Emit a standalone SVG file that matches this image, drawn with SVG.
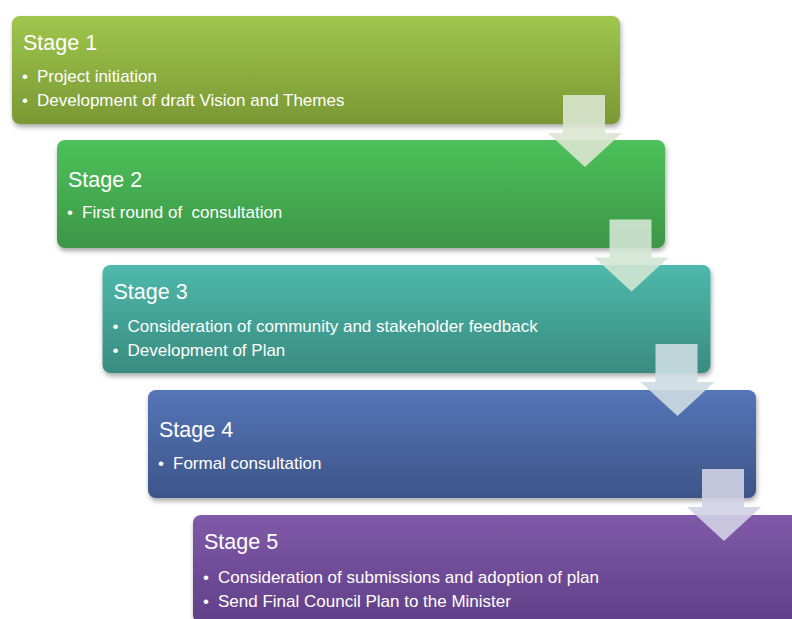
<svg xmlns="http://www.w3.org/2000/svg" width="792" height="619" viewBox="0 0 792 619">
<defs>
<filter id="sh" x="-5%" y="-10%" width="110%" height="130%">
<feDropShadow dx="1" dy="3" stdDeviation="2.5" flood-color="#000" flood-opacity="0.35"/>
</filter>
<linearGradient id="g1" x1="0" y1="0" x2="0" y2="1"><stop offset="0" stop-color="#9fc64c"/><stop offset="1" stop-color="#7a9834"/></linearGradient>
<linearGradient id="g2" x1="0" y1="0" x2="0" y2="1"><stop offset="0" stop-color="#4dc15b"/><stop offset="1" stop-color="#3c9646"/></linearGradient>
<linearGradient id="g3" x1="0" y1="0" x2="0" y2="1"><stop offset="0" stop-color="#4eb9ac"/><stop offset="1" stop-color="#398b7f"/></linearGradient>
<linearGradient id="g4" x1="0" y1="0" x2="0" y2="1"><stop offset="0" stop-color="#5575b7"/><stop offset="1" stop-color="#3d5588"/></linearGradient>
<linearGradient id="g5" x1="0" y1="0" x2="0" y2="1"><stop offset="0" stop-color="#805aa9"/><stop offset="1" stop-color="#603f87"/></linearGradient>
<path id="arr" d="M15 0 H57 V38 H74 L37 72 L0 38 H15 Z"/>
</defs>
<style>
.box{filter:url(#sh);}
.t{font-family:"Liberation Sans",Arial,sans-serif;fill:#ffffff;}
.h{font-size:21.5px;}
.b{font-size:17px;}
.arrow{opacity:0.9;}
</style>
<rect width="792" height="619" fill="#ffffff"/>

<g id="stage1">
<rect class="box" x="12" y="16" width="608" height="108" rx="8" fill="url(#g1)"/>
<text class="t h" x="23" y="50">Stage 1</text>
<text class="t b" x="22" y="82">•</text><text class="t b" x="37" y="82">Project initiation</text>
<text class="t b" x="22" y="106">•</text><text class="t b" x="37" y="106">Development of draft Vision and Themes</text>
</g>

<g id="stage2">
<rect class="box" x="57" y="140" width="608" height="108" rx="8" fill="url(#g2)"/>
<text class="t h" x="68" y="187">Stage 2</text>
<text class="t b" x="67" y="218">•</text><text class="t b" x="82" y="218" xml:space="preserve">First round of  consultation</text>
</g>

<g id="stage3">
<rect class="box" x="102.5" y="265" width="608" height="108" rx="8" fill="url(#g3)"/>
<text class="t h" x="113.5" y="299">Stage 3</text>
<text class="t b" x="112.5" y="332">•</text><text class="t b" x="127.5" y="332">Consideration of community and stakeholder feedback</text>
<text class="t b" x="112.5" y="356">•</text><text class="t b" x="127.5" y="356">Development of Plan</text>
</g>

<g id="stage4">
<rect class="box" x="148" y="390" width="608" height="108" rx="8" fill="url(#g4)"/>
<text class="t h" x="159" y="437">Stage 4</text>
<text class="t b" x="158" y="469">•</text><text class="t b" x="173" y="469">Formal consultation</text>
</g>

<g id="stage5">
<rect class="box" x="193" y="515" width="608" height="108" rx="8" fill="url(#g5)"/>
<text class="t h" x="204" y="549">Stage 5</text>
<text class="t b" x="203" y="583">•</text><text class="t b" x="218" y="583">Consideration of submissions and adoption of plan</text>
<text class="t b" x="203" y="607">•</text><text class="t b" x="218" y="607">Send Final Council Plan to the Minister</text>
</g>

<g id="connectors">
<use class="arrow" href="#arr" x="548" y="95" fill="#dbe6d0"/>
<use class="arrow" href="#arr" x="594.5" y="219.5" fill="#d2e6d3"/>
<use class="arrow" href="#arr" x="640.5" y="344" fill="#cddde2"/>
<use class="arrow" href="#arr" x="687" y="469" fill="#d2d1e6"/>
</g>
</svg>
